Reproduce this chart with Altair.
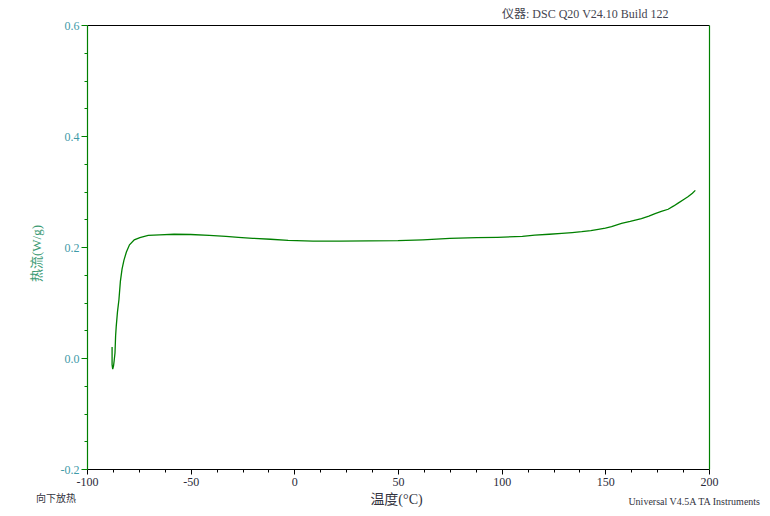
import altair as alt
import pandas as pd

# Heat flow curve (temperature °C, heat flow W/g), in scan order
temp = [-87.9, -87.9, -87.6, -87.2, -86.9, -86.5, -86.2, -85.9, -85.3, -84.6,
        -83.9, -83.1, -82.2, -81.0, -79.5, -77.2, -74.5, -70.5, -65.0, -58.0,
        -50.0, -41.0, -33.0, -27.0, -20.0, -11.5, -3.0, 9.0, 22.0, 36.0,
        50.0, 62.0, 75.0, 88.0, 98.0, 110.0, 116.0, 123.0, 129.0, 134.0,
        138.6, 143.0, 146.6, 150.0, 153.0, 157.8, 162.0, 167.4, 171.0, 174.0,
        177.0, 180.3, 183.0, 185.1, 188.0, 190.0, 192.0, 193.4]
heat = [0.020, -0.012, -0.020, -0.014, -0.005, 0.009, 0.040, 0.057, 0.083, 0.105,
        0.138, 0.160, 0.176, 0.191, 0.204, 0.213, 0.217, 0.221, 0.222, 0.223,
        0.2225, 0.221, 0.219, 0.2175, 0.2157, 0.214, 0.212, 0.2105, 0.2105, 0.211,
        0.2115, 0.213, 0.2155, 0.2168, 0.2175, 0.219, 0.2215, 0.223, 0.2246, 0.226,
        0.2276, 0.2295, 0.2319, 0.234, 0.2366, 0.2427, 0.246, 0.251, 0.2555, 0.260,
        0.264, 0.268, 0.274, 0.279, 0.286, 0.291, 0.297, 0.302]

x_tick_values = [-100, -87.5, -75, -62.5, -50, -37.5, -25, -12.5, 0, 12.5, 25, 37.5,
                 50, 62.5, 75, 87.5, 100, 112.5, 125, 137.5, 150, 162.5, 175, 187.5, 200]
y_tick_values = [-0.2, -0.15, -0.1, -0.05, 0.0, 0.05, 0.1, 0.15, 0.2, 0.25, 0.3,
                 0.35, 0.4, 0.45, 0.5, 0.55, 0.6]

x_title = "温度(°C)"
y_title = "热流(W/g)"
top_note = ["仪器: DSC Q20 V24.10 Build 122"]
left_note = ["向下放热"]
right_note = ["Universal V4.5A TA Instruments"]

df = pd.DataFrame({"temp": temp, "heat": heat, "seq": list(range(len(temp)))})

FONT = "Liberation Serif, Noto Sans CJK SC"
GREEN = "#008000"

x_scale = alt.Scale(domain=[-100, 200], nice=False, zero=False)
y_scale = alt.Scale(domain=[-0.2, 0.6], nice=False, zero=False)

major_y = "abs(datum.value*5 - round(datum.value*5)) < 0.001"
major_x = "datum.value % 50 == 0"

line = alt.Chart(df).mark_line(color=GREEN, strokeWidth=1.3).encode(
    x=alt.X("temp:Q", scale=x_scale, axis=alt.Axis(
        values=x_tick_values, grid=False, domainColor="black", domainWidth=1.2,
        tickColor="black", tickWidth=1,
        tickSize={"condition": {"test": major_x, "value": 5}, "value": 3},
        labelExpr=major_x + " ? '' + datum.value : ''",
        labelFont=FONT, labelFontSize=12, labelColor="#2b2b3a", labelPadding=2,
        labelFlush=False, labelOverlap=False,
        title=x_title, titleFont=FONT, titleFontSize=14, titleFontWeight="normal",
        titleColor="#333340", titleX=309, titleY=30, titleBaseline="middle")),
    y=alt.Y("heat:Q", scale=y_scale, axis=alt.Axis(
        values=y_tick_values, grid=False, domainColor=GREEN, domainWidth=1.2,
        tickColor=GREEN, tickWidth=1,
        tickSize={"condition": {"test": major_y, "value": 6}, "value": 3},
        labelExpr=major_y + " ? replace(format(datum.value, '.1f'), '\u2212', '-') : ''",
        labelFont=FONT, labelFontSize=12, labelColor="#3f9aa8", labelPadding=2,
        labelOverlap=False, labelFlush=False,
        title=y_title, titleFont=FONT, titleFontSize=13, titleFontWeight="normal",
        titleColor="#3c9a74", titleX=-51, titleY=228, titleAlign="center",
        titleBaseline="middle")),
    order="seq:Q",
)

frame = alt.Chart(df).mark_line(opacity=0).encode(
    x=alt.X("temp:Q", scale=x_scale, axis=alt.Axis(
        orient="top", labels=False, ticks=False, grid=False, title=None,
        domainColor="black", domainWidth=1.2)),
    y=alt.Y("heat:Q", scale=y_scale, axis=alt.Axis(
        orient="right", labels=False, ticks=False, grid=False, title=None,
        domainColor=GREEN, domainWidth=1.2)),
    order="seq:Q",
)

note_top = alt.Chart(pd.DataFrame({"note": top_note})).mark_text(
    font=FONT, fontSize=12, color="#444450", align="left",
    baseline="top").encode(text="note:N", x=alt.value(415), y=alt.value(-16))
note_left = alt.Chart(pd.DataFrame({"note": left_note})).mark_text(
    font=FONT, fontSize=10, color="#333340", align="left",
    baseline="middle").encode(text="note:N", x=alt.value(-51), y=alt.value(474))
note_right = alt.Chart(pd.DataFrame({"note": right_note})).mark_text(
    font=FONT, fontSize=10, color="#333340", align="right",
    baseline="middle").encode(text="note:N", x=alt.value(673), y=alt.value(477))

chart = alt.layer(line, frame, note_top, note_left, note_right).resolve_axis(
    x="independent", y="independent"
).properties(
    width=622, height=444,
    autosize=alt.AutoSizeParams(type="none"),
    padding={"left": 79, "top": 17, "right": 53, "bottom": 39},
    background="white",
).configure_view(stroke=None)

chart.save("out.html", embed_options={"renderer": "svg", "actions": False})
